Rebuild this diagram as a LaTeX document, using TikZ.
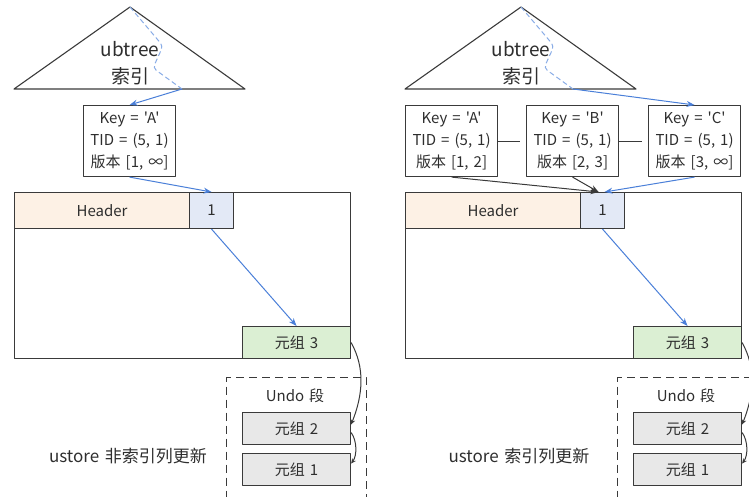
\documentclass[tikz,border=0pt]{standalone}
\usepackage{fontspec}
\newfontfamily\yahei{Noto Sans CJK SC}[WordSpace=1.5]
\usetikzlibrary{arrows.meta}
\definecolor{edge}{HTML}{3A3A3A}
\definecolor{ink}{HTML}{2E2E2E}
\definecolor{ptrblue}{HTML}{4A7FD8}
\definecolor{hdrfill}{HTML}{FDF1E5}
\definecolor{slotfill}{HTML}{E3E9F6}
\definecolor{newfill}{HTML}{DBEFD3}
\definecolor{oldfill}{HTML}{E8E8E8}
\newcommand{\kv}[3]{Key = '#1'\\TID = (5, 1)\\版本 [#2, #3]}
\begin{document}
\begin{tikzpicture}[x=1pt, y=-1pt, line join=round, >={Stealth[length=8pt,width=6pt]}, font=\yahei\fontsize{15}{22}\selectfont, text=ink]
\tikzset{
  box/.style={draw=edge, line width=1.1pt, anchor=north west, inner sep=0pt, align=center},
  keybox/.style={box, minimum width=92, minimum height=71},
  tuple/.style={box, minimum width=108, minimum height=32},
  ptr/.style={->, ptrblue, line width=1pt},
  link/.style={->, edge, line width=1pt},
}
\useasboundingbox (0,0) rectangle (749,497);
\clip (0,0) rectangle (749,497);
% two panels: page, index triangle and undo segment
\foreach \s/\n/\t in {0/L/非索引列更新, 391/R/索引列更新}{
  \begin{scope}[xshift=\s]
    \path (130,7) coordinate (\n-top)
    (14,89) coordinate (\n-bl)
    (245,89) coordinate (\n-br)
    (182,89) coordinate (\n-leaf);
    \draw[edge, line width=1.1pt] (\n-bl) -- (\n-top) -- (\n-br) -- cycle;
    \node[font=\yahei\fontsize{19}{27}\selectfont, align=center] (\n-idx) at (130,63) {ubtree\\索引};
    \draw[ptrblue!65, dash pattern=on 5pt off 3pt, line width=1pt, rounded corners=4pt] (\n-top) -- (163,46) -- (153,68) -- (\n-leaf);
    \node[box, minimum width=336, minimum height=166] (\n-page) at (14,192) {};
    \node[box, fill=hdrfill, minimum width=175, minimum height=36] (\n-hdr) at (14,192) {Header};
    \node[box, fill=slotfill, minimum width=44, minimum height=36] (\n-one) at (189,192) {1};
    \node[tuple, fill=newfill] (\n-t3) at (242,326) {元组 3};
    \node[box, dashed, dash pattern=on 8pt off 5pt, minimum width=140, minimum height=140] (\n-undo) at (226,377) {};
    \node (\n-ulab) at (295,396) {Undo 段};
    \node[tuple, fill=oldfill] (\n-t2) at (242,412) {元组 2};
    \node[tuple, fill=oldfill] (\n-t1) at (242,453) {元组 1};
    \node[font=\yahei\fontsize{17}{20}\selectfont] (\n-cap) at (128,456) {ustore \t};
    \draw[ptr] (\n-one.south) -- (\n-t3.north);
    \draw[link, -{Stealth[length=5pt,width=4.5pt]}] (\n-t3.east) .. controls +(14,25) and +(12,-30) .. ([yshift=4pt]\n-t2.east);
    \draw[link, -{Stealth[length=5pt,width=4.5pt]}] ([yshift=-4pt]\n-t2.east) .. controls +(6,8) and +(6,-8) .. ([yshift=6pt]\n-t1.east);
  \end{scope}
}
% left: one index entry
\node[keybox] (L-key) at (83,105) {\kv{A}{1}{∞}};
\draw[ptr] (L-leaf) -- (L-key.north);
\draw[ptr] (L-key.south) -- (L-one.north);
% right: three index entries
\foreach \k/\x/\a/\b in {A/405/1/2, B/526/2/3, C/648/3/∞}
  \node[keybox] (R-\k) at (\x,105) {\kv{\k}{\a}{\b}};
\draw[edge, line width=1pt, shorten >=6pt] (R-A.east) -- (R-B.west);
\draw[edge, line width=1pt, shorten >=6pt] (R-B.east) -- (R-C.west);
\draw[ptr] (R-leaf) -- (R-C.north);
\draw[link] (R-A.south) -- ([xshift=-4pt]R-one.north);
\draw[link] (R-B.south) -- ([xshift=-4pt]R-one.north);
\draw[ptr] (R-C.south) -- ([xshift=2pt]R-one.north);
\end{tikzpicture}
\end{document}
